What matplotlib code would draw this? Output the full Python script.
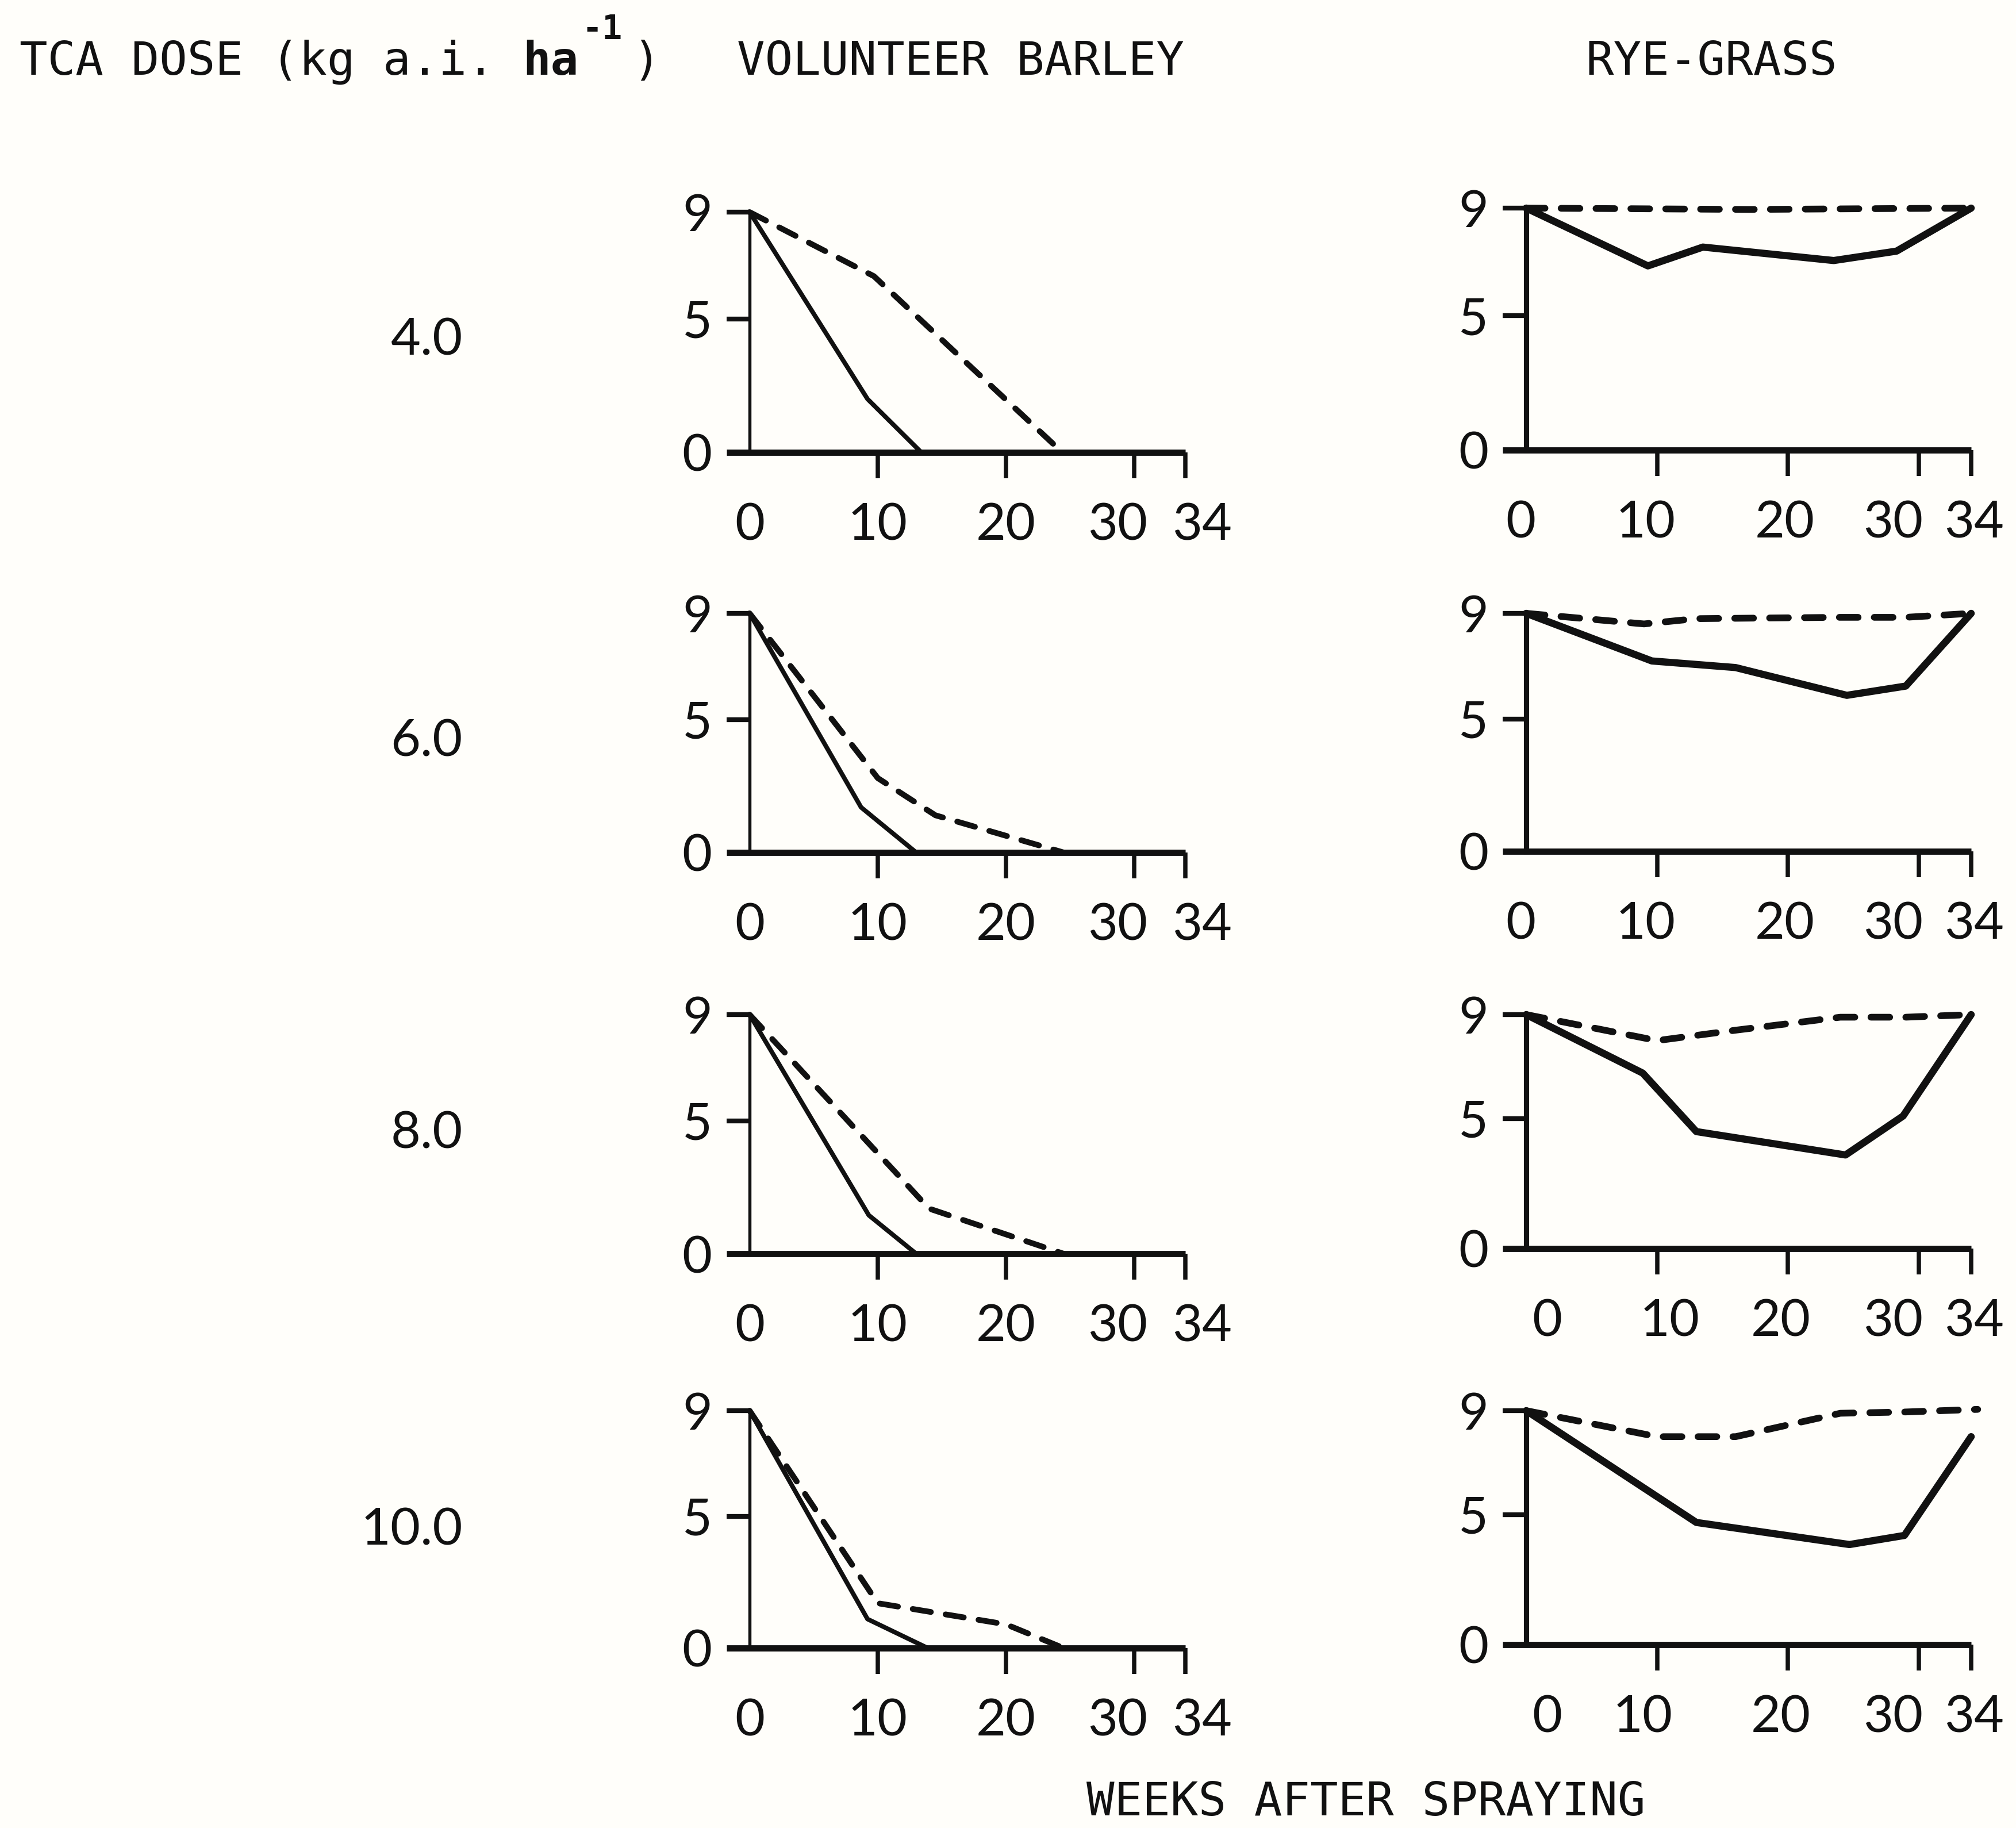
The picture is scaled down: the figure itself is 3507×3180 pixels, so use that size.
import matplotlib
matplotlib.use("Agg")
import matplotlib.pyplot as plt
import matplotlib.transforms as mtransforms

# ---------------- data ----------------
doses = ["4.0", "6.0", "8.0", "10.0"]
x_ticks = [0, 10, 20, 30, 34]
y_ticks = [0, 5, 9]

# VOLUNTEER BARLEY
barley_solid_x = [[0, 9.2, 13.4], [0, 8.7, 13.0], [0, 9.3, 13.0], [0, 9.2, 13.9]]
barley_solid_y = [[9, 2.0, 0], [9, 1.7, 0], [9, 1.45, 0], [9, 1.1, 0]]
barley_dashed_x = [[0, 9.7, 24.4], [0, 10, 14.5, 24.5], [0, 14, 24.5], [0, 10, 20, 24.5]]
barley_dashed_y = [[9, 6.6, 0], [9, 2.8, 1.4, 0], [9, 1.7, 0], [9, 1.7, 0.9, 0]]

# RYE-GRASS
rye_solid_x = [[0, 9.3, 13.5, 23.5, 28.3, 34], [0, 9.6, 16, 24.5, 29, 34],
               [0, 8.9, 13, 24.4, 28.8, 34], [0, 13, 24.7, 28.9, 34]]
rye_solid_y = [[9, 6.85, 7.55, 7.05, 7.4, 9], [9, 7.2, 6.95, 5.9, 6.25, 9],
               [9, 6.75, 4.5, 3.6, 5.1, 9], [9, 4.7, 3.85, 4.2, 8.0]]
rye_dashed_x = [[0, 17, 34], [0, 9, 13, 24, 29, 34],
                [0, 10, 16, 24, 29, 34], [0, 10, 16, 24, 29, 34.5]]
rye_dashed_y = [[9, 8.95, 9], [9, 8.6, 8.8, 8.85, 8.85, 9],
                [9, 8.0, 8.4, 8.9, 8.9, 9], [9, 8.0, 8.0, 8.9, 8.95, 9.05]]

# ---------------- layout (pixels in the 3507x3180 canvas, top origin) ----------------
W, H = 3507, 3180
barley_x = (1304, 2062)            # pixel of week 0, week 34
rye_x = (2655, 3429)
barley_rows = [(369, 787), (1067, 1483), (1765, 2181), (2454, 2867)]   # pixel of score 9, score 0
rye_rows = [(362, 783), (1067, 1481), (1765, 2172), (2454, 2861)]
dose_label_y = [593, 1291, 1973, 2662]

XMIN, XMAX = -3.0, 36.5
YMIN, YMAX = -1.6, 9.7

INK = "#111111"
BG = "#fffefa"
NUM_FONT = ["Lato", "DejaVu Sans"]
MONO_FONT = ["DejaVu Sans Mono"]
NUM_SIZE = 21.5

fig = plt.figure(figsize=(W / 300, H / 300), dpi=300, facecolor=BG)


def make_axes(xpx, ypx):
    x0, x34 = xpx
    y9, y0 = ypx
    sx = (x34 - x0) / 34.0
    sy = (y0 - y9) / 9.0
    left = x0 + XMIN * sx
    width = (XMAX - XMIN) * sx
    bottom_px = y0 - YMIN * sy   # pixel (top origin) of YMIN
    height = (YMAX - YMIN) * sy
    ax = fig.add_axes([left / W, 1 - bottom_px / H, width / W, height / H])
    ax.set_xlim(XMIN, XMAX)
    ax.set_ylim(YMIN, YMAX)
    ax.set_facecolor("none")
    return ax, sx


def style_axes(ax, sx, ylw, label_offsets):
    for s in ("top", "right"):
        ax.spines[s].set_visible(False)
    ax.spines["left"].set_position(("data", 0))
    ax.spines["left"].set_bounds(0, 9)
    ax.spines["left"].set_linewidth(ylw)
    ax.spines["left"].set_color(INK)
    ax.spines["bottom"].set_position(("data", 0))
    ax.spines["bottom"].set_bounds(-1.8, 34)
    ax.spines["bottom"].set_linewidth(2.6)
    ax.spines["bottom"].set_color(INK)
    ax.spines["bottom"].set_capstyle("butt")

    ax.set_xticks(x_ticks)
    ax.set_xticklabels([str(t) for t in x_ticks])
    ax.set_yticks(y_ticks)
    ax.set_yticklabels([str(t) for t in y_ticks])
    ylen = 1.8 * sx * 72 / 300
    ax.tick_params(axis="x", direction="out", length=10.8, width=1.8, pad=10,
                   colors=INK, labelsize=NUM_SIZE)
    ax.tick_params(axis="y", direction="out", length=ylen, width=2.0, pad=6,
                   colors=INK, labelsize=NUM_SIZE)
    ax.xaxis.get_major_ticks()[0].tick1line.set_visible(False)
    ax.yaxis.get_major_ticks()[0].tick1line.set_visible(False)
    for lab in ax.get_xticklabels() + ax.get_yticklabels():
        lab.set_fontfamily(NUM_FONT)
        lab.set_fontweight("normal")
        lab.set_color(INK)
    for lab, dx in zip(ax.get_xticklabels(), label_offsets):
        off = mtransforms.ScaledTranslation(dx / 300, 0, fig.dpi_scale_trans)
        lab.set_transform(lab.get_transform() + off)


barley_offsets = [0, 0, 0, -29, 29]
rye_offsets_rows = [[-10, -20, -5, -45, 5], [-10, -20, -5, -45, 5],
                    [36, 22, -12, -45, 5], [36, -25, -12, -45, 5]]

for i in range(4):
    # barley
    ax, sx = make_axes(barley_x, barley_rows[i])
    style_axes(ax, sx, 1.3, barley_offsets)
    ax.plot(barley_solid_x[i], barley_solid_y[i], color=INK, lw=1.9,
            solid_joinstyle="round", solid_capstyle="round", zorder=3)
    ax.plot(barley_dashed_x[i], barley_dashed_y[i], color=INK, lw=2.4,
            dashes=(3.2, 2.6), dash_capstyle="round", zorder=3)

    # rye-grass
    ax, sx = make_axes(rye_x, rye_rows[i])
    style_axes(ax, sx, 2.2, rye_offsets_rows[i])
    ax.plot(rye_solid_x[i], rye_solid_y[i], color=INK, lw=3.0,
            solid_joinstyle="round", solid_capstyle="round", zorder=3)
    ax.plot(rye_dashed_x[i], rye_dashed_y[i], color=INK, lw=2.8,
            dashes=(2.8, 2.4), dash_capstyle="round", zorder=3)

    # dose label
    fig.text(805 / W, 1 - dose_label_y[i] / H, doses[i], ha="right", va="center",
             fontsize=NUM_SIZE, family=NUM_FONT, fontweight="normal", color=INK)

# ---------------- header / footer text ----------------
hy = 1 - 108 / H
fig.text(34 / W, hy, "TCA DOSE (kg a.i. ", ha="left", va="center",
         fontsize=19.4, family=MONO_FONT, color=INK)
fig.text(909 / W, hy, "ha", ha="left", va="center",
         fontsize=19.4, family=MONO_FONT, fontweight="bold", color=INK)
fig.text(1012 / W, 1 - 52 / H, "-1", ha="left", va="center",
         fontsize=14, family=MONO_FONT, fontweight="bold", color=INK)
fig.text(1100 / W, hy, ")", ha="left", va="center",
         fontsize=19.4, family=MONO_FONT, color=INK)
fig.text(1282 / W, hy, "VOLUNTEER BARLEY", ha="left", va="center",
         fontsize=19.4, family=MONO_FONT, color=INK)
fig.text(2758 / W, hy, "RYE-GRASS", ha="left", va="center",
         fontsize=19.4, family=MONO_FONT, color=INK)
fig.text(1890 / W, 1 - 3136 / H, "WEEKS AFTER SPRAYING", ha="left", va="center",
         fontsize=19.4, family=MONO_FONT, color=INK)

fig.savefig("out.png", dpi=300, facecolor=BG)
